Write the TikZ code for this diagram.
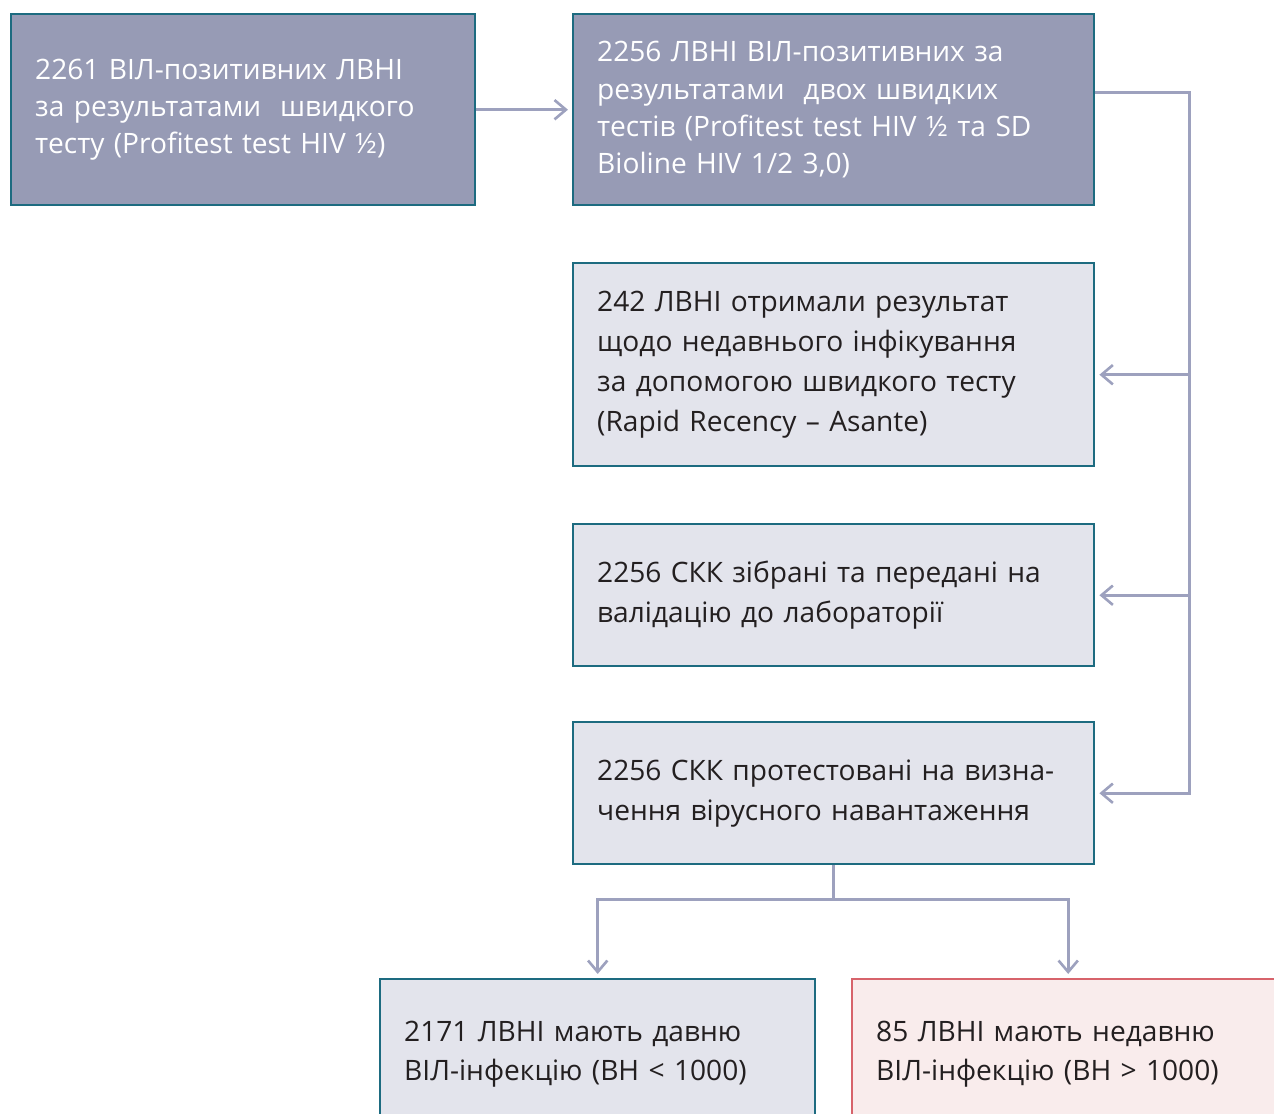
\documentclass[tikz,border=0pt]{standalone}
\usepackage{fontspec}
\setmainfont{Open Sans}
\usetikzlibrary{arrows.meta,positioning,calc}
\definecolor{darkfill}{HTML}{979BB5}
\definecolor{lightfill}{HTML}{E3E4EC}
\definecolor{recentfill}{HTML}{F9ECEC}
\definecolor{tealline}{HTML}{1D6B80}
\definecolor{recentline}{HTML}{D7636B}
\definecolor{linkline}{HTML}{9DA1BE}
\definecolor{bodytext}{HTML}{231F20}

\begin{document}
\begin{tikzpicture}[x=0.02cm,y=-0.02cm,
  box/.style={draw=tealline,line width=1.4pt,anchor=north west,align=left,
    inner xsep=0.48cm,inner ysep=0pt,font=\fontsize{16}{22.7}\selectfont},
  darkbox/.style={box,fill=darkfill,text=white,font=\fontsize{16}{21.2}\selectfont},
  lightbox/.style={box,fill=lightfill,text=bodytext},
  recentbox/.style={box,draw=recentline,fill=recentfill,text=bodytext},
  conn/.style={draw=linkline,line width=1.7pt},
  tip/.style={-{Straight Barb[length=6.5pt,width=11pt,line width=1.5pt]},shorten >=2.3pt}]
  \path[use as bounding box] (0,0) rectangle (1274,1113);
  \clip (0,0) rectangle (1274,1113);
  % top row
  \node[darkbox,text width=8.32cm,minimum height=3.82cm] (first) at (10,13)
    {2261 ВІЛ-позитивних ЛВНІ\\за результатами\ \ швидкого\\тесту (Profitest test HIV ½)};
  \node[darkbox,text width=9.46cm,minimum height=3.82cm] (confirm) at (572,13)
    {2256 ЛВНІ ВІЛ-позитивних за\\результатами\ \ двох швидких\\тестів (Profitest test HIV ½ та SD\\Bioline HIV 1/2 3,0)};
  % right column
  \node[lightbox,text width=9.46cm,minimum height=4.06cm] (recency) at (572,262)
    {242 ЛВНІ отримали результат\\щодо недавнього інфікування\\за допомогою швидкого тесту\\(Rapid Recency – Asante)};
  \node[lightbox,text width=9.46cm,minimum height=2.84cm] (collect) at (572,523)
    {2256 СКК зібрані та передані на\\валідацію до лабораторії};
  \node[lightbox,text width=9.46cm,minimum height=2.84cm] (viral) at (572,721)
    {2256 СКК протестовані на визна-\\чення вірусного навантаження};
  % outcomes
  \node[lightbox,text width=7.74cm,minimum height=3cm] (longterm) at (379,978)
    {2171 ЛВНІ мають давню\\ВІЛ-інфекцію (ВН < 1000)};
  \node[recentbox,text width=7.68cm,minimum height=3cm] (recent) at (851,978)
    {85 ЛВНІ мають недавню\\ВІЛ-інфекцію (ВН > 1000)};

  \coordinate (trunk) at (1189,92);
  \coordinate (split) at (viral.south |- 0,899);
  \coordinate (recin) at ([yshift=-0.2cm]recency.east);

  \draw[conn,tip] (first.east) -- (confirm.west);
  \draw[conn,tip] (confirm.east |- trunk) -- (trunk) |- (viral.east);
  \draw[conn,tip] (recin -| trunk) -- (recin);
  \draw[conn,tip] (collect.east -| trunk) -- (collect.east);
  \draw[conn] (viral.south) -- (split);
  \draw[conn,tip] (split) -| (longterm.north);
  \draw[conn,tip] (split) -| (recent.north);
\end{tikzpicture}
\end{document}
